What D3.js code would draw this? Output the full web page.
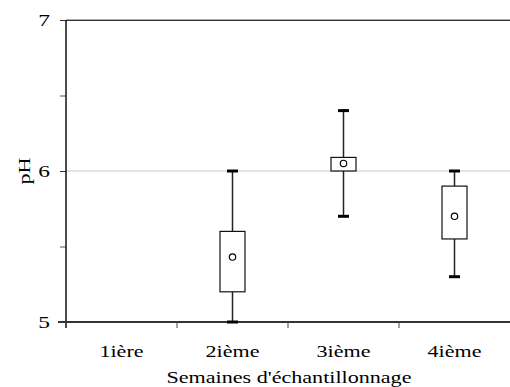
<!DOCTYPE html>
<html><head><meta charset="utf-8">
<script src="https://cdn.jsdelivr.net/npm/d3@7"></script>
<style>body{margin:0;background:#fff}svg{display:block}text{font-family:"Liberation Serif","Times New Roman",serif;fill:#000}</style>
</head><body><svg id="c" width="510" height="387"></svg>
<script>
const categories = ["1ière","2ième","3ième","4ième"];
const whiskerLow  = [null, 5.0, 5.7, 5.3];
const q1          = [null, 5.2, 6.0, 5.55];
const q3          = [null, 5.6, 6.09, 5.9];
const whiskerHigh = [null, 6.0, 6.4, 6.0];
const meanVal     = [null, 5.43, 6.05, 5.7];
const yTicks = [5, 6, 7];
const yMinorTicks = [5.5, 6.5];

const svg = d3.select("#c");
const L = 66, R = 510, T = 20, B = 322;
const STRETCH = 1.38;
const x = d3.scaleBand().domain(categories).range([L, R]);
const y = d3.scaleLinear().domain([5, 7]).range([B, T]);

function stretch(sel) {
  sel.each(function () {
    const w = this.getComputedTextLength();
    d3.select(this).attr("textLength", w * STRETCH).attr("lengthAdjust", "spacingAndGlyphs");
  });
}

// grid line at 6
svg.append("line").attr("x1", L).attr("x2", R).attr("y1", y(6)).attr("y2", y(6))
  .attr("stroke", "#c8c8c8").attr("stroke-width", 1);
// top line
svg.append("line").attr("x1", L).attr("x2", R).attr("y1", y(7)-0.5).attr("y2", y(7)-0.5)
  .attr("stroke", "#aaa").attr("stroke-width", 1);
svg.append("line").attr("x1", L).attr("x2", R).attr("y1", y(7)+0.5).attr("y2", y(7)+0.5)
  .attr("stroke", "#333").attr("stroke-width", 1);

// y axis
const ya = svg.append("g").attr("transform", `translate(${L},0)`)
  .call(d3.axisLeft(y).tickValues(yTicks).tickSize(6).tickSizeOuter(0).tickFormat(d3.format("d")));
ya.select(".domain").remove();
ya.selectAll(".tick line").attr("stroke", "#333");
ya.selectAll("text").attr("font-size", 17).attr("x", -16).attr("dy", "0.35em")
  .style("font-family", '"Liberation Serif",serif').call(stretch);
svg.append("g").attr("transform", `translate(${L},0)`)
  .call(d3.axisLeft(y).tickValues(yMinorTicks).tickSize(6).tickFormat(""))
  .call(g => { g.select(".domain").remove(); g.selectAll(".tick line").attr("stroke", "#555"); });
svg.append("line").attr("x1", L).attr("x2", L).attr("y1", T).attr("y2", B + 6)
  .attr("stroke", "#111").attr("stroke-width", 1.5);

// x axis
svg.append("line").attr("x1", L - 8).attr("x2", R).attr("y1", B).attr("y2", B)
  .attr("stroke", "#333").attr("stroke-width", 2.2);
const xa = svg.append("g").attr("transform", `translate(0,${B})`)
  .call(d3.axisBottom(x).tickSize(0).tickSizeOuter(0));
xa.select(".domain").remove();
xa.selectAll("text").attr("font-size", 16).attr("dy", 0).attr("y", 35)
  .style("font-family", '"Liberation Serif",serif').call(stretch);
// separator ticks between categories
categories.slice(1).forEach(c => {
  svg.append("line").attr("x1", x(c)).attr("x2", x(c)).attr("y1", B).attr("y2", B + 6)
    .attr("stroke", "#444").attr("stroke-width", 1);
});

// boxes
const bw = 25, cw = 11;
categories.forEach((c, i) => {
  if (q1[i] == null) return;
  const cx = x(c) + x.bandwidth() / 2;
  const g = svg.append("g");
  g.append("line").attr("x1", cx).attr("x2", cx).attr("y1", y(whiskerHigh[i])).attr("y2", y(q3[i]))
    .attr("stroke", "#222").attr("stroke-width", 1.5);
  g.append("line").attr("x1", cx).attr("x2", cx).attr("y1", y(q1[i])).attr("y2", y(whiskerLow[i]))
    .attr("stroke", "#222").attr("stroke-width", 1.5);
  [whiskerHigh[i], whiskerLow[i]].forEach(v => {
    g.append("line").attr("x1", cx - cw / 2).attr("x2", cx + cw / 2).attr("y1", y(v)).attr("y2", y(v))
      .attr("stroke", "#000").attr("stroke-width", 3);
  });
  g.append("rect").attr("x", cx - bw / 2).attr("y", y(q3[i])).attr("width", bw)
    .attr("height", y(q1[i]) - y(q3[i])).attr("fill", "#fff").attr("stroke", "#111").attr("stroke-width", 1.2);
  g.append("circle").attr("cx", cx).attr("cy", y(meanVal[i])).attr("r", 3.2)
    .attr("fill", "#fff").attr("stroke", "#000").attr("stroke-width", 1.2);
});

// axis titles
svg.append("text").attr("x", 289).attr("y", 383).attr("text-anchor", "middle")
  .attr("font-size", 16).text("Semaines d'échantillonnage").call(stretch);
svg.append("text").attr("transform", `translate(30,${y(6)}) rotate(-90)`).attr("text-anchor", "middle")
  .attr("font-size", 16).text("pH").call(stretch);
</script></body></html>
